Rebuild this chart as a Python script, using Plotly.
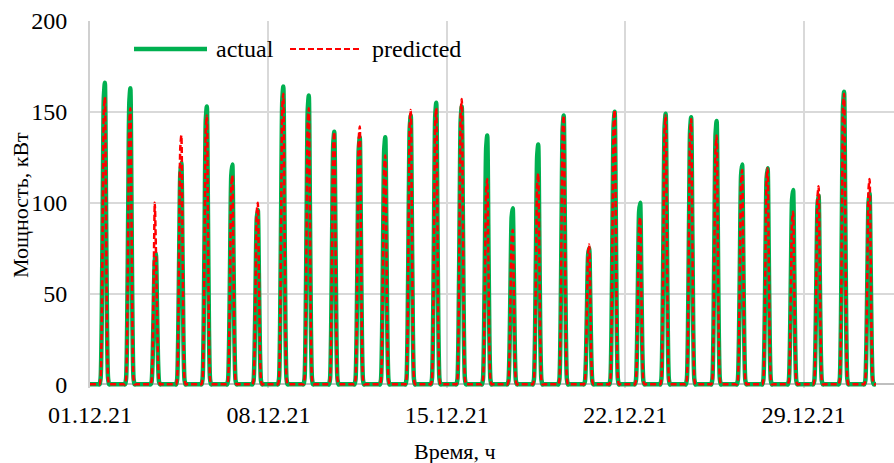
import pandas as pd
import plotly.graph_objects as go

# Daily peak power, kW (01.12.21 ... 31.12.21)
days = list(range(1, 32))
actual_peak = [166, 163, 72, 122, 153, 121, 96, 164, 159, 139, 136, 136, 148, 155, 153, 137,
               97, 132, 148, 75, 150, 100, 149, 147, 145, 121, 119, 107, 104, 161, 105]
predicted_peak = [158, 152, 100, 137, 148, 115, 100, 160, 152, 139, 142, 126, 151, 152, 157, 113,
                  85, 116, 148, 77, 151, 92, 148, 146, 137, 118, 119, 95, 109, 160, 113]

# Shape of a December generation day (share of the daily peak per hour)
daylight_hours = [9, 10, 11, 12, 13, 14, 15, 16, 17, 18]
daylight_shape = [0.0, 0.02, 0.20, 0.60, 0.95, 1.00, 0.64, 0.20, 0.02, 0.0]

# Hourly forecast values that depart from the common shape
predicted_hourly_override = {3: [0, 2, 18, 60, 100, 76, 46, 15, 2, 0]}

first_hour = "2021-12-01 00:00"
last_hour = "2021-12-31 20:00"

tick_dates = ["2021-12-01", "2021-12-08", "2021-12-15", "2021-12-22", "2021-12-29"]
tick_labels = ["01.12.21", "08.12.21", "15.12.21", "22.12.21", "29.12.21"]
y_ticks = [0, 50, 100, 150, 200]

# ---- hourly series ----
time = pd.date_range(first_hour, last_hour, freq="h")
actual = pd.Series(0.0, index=time)
predicted = pd.Series(0.0, index=time)
for d, pa, pp in zip(days, actual_peak, predicted_peak):
    pred_vals = predicted_hourly_override.get(d, [pp * s for s in daylight_shape])
    for h, s, pv in zip(daylight_hours, daylight_shape, pred_vals):
        t = pd.Timestamp(2021, 12, d, h)
        if t in actual.index:
            actual[t] = pa * s
            predicted[t] = pv

GREEN = "#00b050"
RED = "#ff0000"
FONT = "Liberation Serif"

W, H = 894, 463
L, R, T, B = 90, 0, 21, 75
PW, PH = W - L - R, H - T - B


def px_x(px):
    return (px - L) / PW


def px_y(py):
    return (H - B - py) / PH


fig = go.Figure()
fig.add_trace(go.Scatter(
    x=actual.index, y=actual.values, mode="lines", name="actual",
    line=dict(color=GREEN, width=4.5, shape="spline", smoothing=0.6),
    showlegend=False,
))
fig.add_trace(go.Scatter(
    x=predicted.index, y=predicted.values, mode="lines", name="predicted",
    line=dict(color=RED, width=2.5, dash="6px,3px", shape="spline", smoothing=0.6),
    showlegend=False,
))

fig.update_layout(
    width=W, height=H,
    margin=dict(l=L, r=R, t=T, b=B),
    paper_bgcolor="white", plot_bgcolor="white",
    font=dict(family=FONT, size=24, color="#000000"),
    xaxis=dict(
        type="date",
        range=["2021-12-01 00:00", "2022-01-01 13:00"],
        tickmode="array", tickvals=tick_dates, ticktext=tick_labels,
        showgrid=True, gridcolor="#d9d9d9", gridwidth=2,
        showline=False, zeroline=False, ticks="",
        ticklabelstandoff=10,
        tickfont=dict(family=FONT, size=24, color="#000000"),
    ),
    yaxis=dict(
        range=[-2, 200],
        tickmode="array", tickvals=y_ticks,
        showgrid=True, gridcolor="#d9d9d9", gridwidth=2,
        zeroline=True, zerolinecolor="#bfbfbf", zerolinewidth=2,
        showline=True, linecolor="#d0d0d0", linewidth=2,
        ticks="", ticklabelstandoff=16,
        tickfont=dict(family=FONT, size=24, color="#000000"),
    ),
)

# Axis titles
fig.add_annotation(text="Мощность, кВт", xref="paper", yref="paper",
                   x=px_x(20), y=px_y(205), textangle=-90, showarrow=False,
                   font=dict(family=FONT, size=22, color="#000000"),
                   xanchor="center", yanchor="middle")
fig.add_annotation(text="Время, ч", xref="paper", yref="paper",
                   x=px_x(455), y=px_y(452), showarrow=False,
                   font=dict(family=FONT, size=22, color="#000000"),
                   xanchor="center", yanchor="middle")

# Legend drawn inside the plot area
leg_y = px_y(49)
fig.add_shape(type="line", xref="paper", yref="paper",
              x0=px_x(134), x1=px_x(207), y0=leg_y, y1=leg_y,
              line=dict(color=GREEN, width=4.5))
fig.add_annotation(text="actual", xref="paper", yref="paper",
                   x=px_x(214), y=leg_y, showarrow=False, xanchor="left", yanchor="middle",
                   font=dict(family=FONT, size=24, color="#000000"))
fig.add_shape(type="line", xref="paper", yref="paper",
              x0=px_x(290), x1=px_x(362), y0=leg_y, y1=leg_y,
              line=dict(color=RED, width=2, dash="6px,3px"))
fig.add_annotation(text="predicted", xref="paper", yref="paper",
                   x=px_x(370), y=leg_y, showarrow=False, xanchor="left", yanchor="middle",
                   font=dict(family=FONT, size=24, color="#000000"))

fig.write_html("out.html")
